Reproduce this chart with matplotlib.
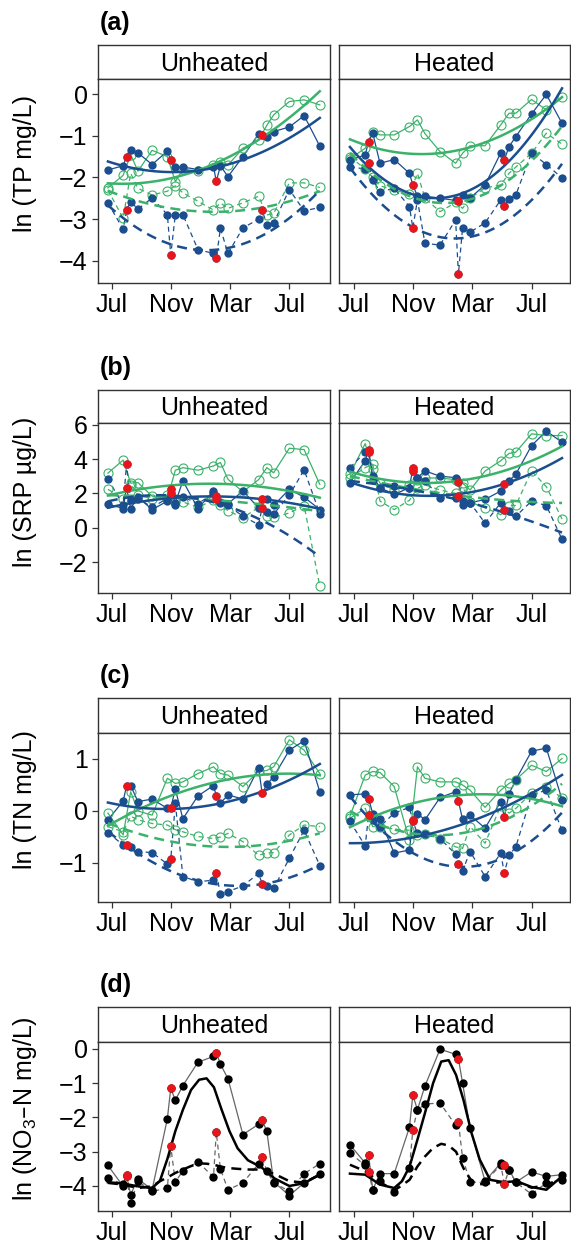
import numpy as np
import matplotlib.pyplot as plt

plt.rcParams['font.family'] = ['Liberation Sans', 'DejaVu Sans']
plt.rcParams['mathtext.default'] = 'regular'

# sampling dates, months after 1 July
months = [-0.27, 0.76, 0.99, 1.27, 1.76, 2.72, 3.75, 3.98, 4.29, 4.8, 5.82, 6.87,
          7.06, 7.34, 7.85, 8.86, 9.92, 10.16, 10.48, 10.94, 12.0, 13.0, 14.06]
red_idx = [2, 7, 12, 17]          # quarterly dates shown in red
tick_months = [0, 4, 8, 12]
tick_labels = ['Jul', 'Nov', 'Mar', 'Jul']
N = None

# fitted curve values read at these dates (a-c)
fit_months = [-0.27, 4, 8, 12, 14.06]
# fitted curve values read at these dates (d)
fit_months_d = [-0.27, 0.76, 1.76, 2.72, 3.25, 3.76, 4.29, 4.8, 5.35, 5.9, 6.4,
                6.9, 7.4, 7.95, 8.5, 9.2, 10.1, 11.0, 12.0, 13.0, 14.06]

# ---- (a) TP ----
tp_unh_blue = [-1.82, -1.72, -1.50, -1.34, -1.41, -1.69, -1.37, -1.58, -1.74, -1.75, -1.81, -1.74,
               -2.09, -1.72, -1.98, -1.50, -0.96, -0.98, -1.02, -0.90, -0.79, -0.52, -1.25]
tp_unh_blue_d = [-2.61, -3.24, -2.78, -2.58, -2.76, -2.49, -2.89, -3.86, -2.89, -2.89, -3.73, -3.82,
                 -3.93, -3.22, -3.82, -3.21, -3.00, -2.78, -3.14, -3.09, -2.29, -2.80, -2.72]
tp_unh_green = [-2.25, -1.95, N, -1.45, -1.85, -1.35, -1.50, N, -2.10, -1.80, -1.85, -1.70,
                N, -1.62, -1.70, -1.30, -1.10, N, -0.75, -0.50, -0.18, -0.14, -0.26]
tp_unh_green_d = [-2.30, -2.98, N, -1.90, -2.26, -2.42, -2.33, N, -2.20, -2.37, -2.57, -2.78,
                  N, -2.61, -2.74, -2.61, -2.45, N, -2.90, -2.86, -2.13, -2.13, -2.24]
tp_heat_blue = [-1.58, -1.46, -1.14, -0.94, -1.66, -1.57, -1.90, -2.18, -2.45, -2.45, -2.50, -2.55,
                -2.57, -2.42, -2.49, -2.18, -1.41, -1.58, -1.26, -1.02, -0.48, -0.01, -0.70]
tp_heat_blue_d = [-1.74, -1.80, -1.66, -2.06, -2.34, -2.26, -2.70, -3.21, -2.54, -3.58, -3.62, -3.02,
                  -4.32, -3.21, -3.31, -3.09, -2.54, -2.68, -2.52, -2.42, -1.41, -1.69, -2.01]
tp_heat_green = [-1.55, -1.30, N, -0.90, -0.98, -0.98, -0.78, N, -0.62, -0.95, -1.38, -1.66,
                 N, -1.42, -1.24, -1.24, -0.74, N, -0.46, -0.46, -0.13, -0.38, -0.08]
tp_heat_green_d = [-1.50, -1.80, N, -2.00, -2.20, -2.30, -2.40, N, -1.90, -2.50, -2.82, -2.60,
                   N, -2.74, -2.50, -2.25, -2.18, N, -1.90, -1.75, -1.42, -0.94, -1.20]
tp_unh_fits = {'green': [-2.13, -2.02, -1.55, -0.45, 0.0], 'blue': [-1.62, -1.85, -1.72, -1.0, -0.6],
               'green_d': [-2.34, -2.68, -2.85, -2.6, -2.3], 'blue_d': [-2.66, -3.6, -3.72, -2.9, -2.35]}
tp_heat_fits = {'green': [-1.1, -1.38, -1.34, -0.54, -0.1], 'blue': [-1.3, -2.3, -2.42, -0.88, 0.1],
                'green_d': [-1.42, -2.46, -2.54, -1.58, -0.78], 'blue_d': [-1.78, -3.15, -3.45, -2.55, -1.66]}

# ---- (b) SRP ----
srp_unh_blue = [1.39, 1.12, 2.33, 1.12, 1.78, 1.06, 1.55, 2.24, 1.45, 2.73, 1.12, 2.14,
                1.84, 1.45, 1.40, 2.14, 1.16, 1.69, 1.69, 1.30, 2.24, 1.78, 1.06]
srp_unh_blue_d = [2.86, 1.30, 3.70, 1.60, 1.70, 1.20, 1.70, 2.00, 1.30, 1.80, 1.40, 2.00,
                  1.70, 1.50, 1.30, 0.67, 0.18, 1.16, 0.90, 0.80, 1.90, 3.37, 0.82]
srp_unh_green = [3.18, 3.94, N, 2.60, 2.63, 1.84, 1.70, N, 3.35, 3.50, 3.35, 3.60,
                 N, 3.80, 2.82, 2.10, 2.80, N, 3.50, 3.20, 4.63, 4.55, 2.53]
srp_unh_green_d = [2.24, 1.70, N, 2.50, 1.90, 1.70, 1.90, N, 1.50, 1.50, 1.20, 1.60,
                   N, 1.30, 1.00, 0.57, 1.20, N, 0.70, 0.60, 0.86, 1.29, -3.41]
srp_heat_blue = [2.63, 3.90, 4.50, 3.00, 2.33, 1.94, 2.33, 3.50, 2.92, 3.31, 3.00, 2.92,
                 2.67, 1.55, 1.45, 1.65, 2.14, 2.53, 2.73, 3.12, 4.78, 5.63, 4.98]
srp_heat_blue_d = [3.50, 4.40, 4.39, 2.80, 2.33, 2.43, 2.33, 3.30, 2.92, 2.75, 1.74, 1.74,
                   1.84, 1.35, 1.45, 0.27, 1.45, 1.06, 0.96, 0.67, 1.55, 1.29, -0.67]
srp_heat_green = [3.12, 4.90, N, 3.40, 2.60, 2.20, 2.50, N, 2.80, 2.90, 2.90, 2.80,
                  N, 2.60, 2.20, 3.30, 3.90, N, 4.33, 4.40, 5.47, 5.37, 5.37]
srp_heat_green_d = [2.90, 3.50, N, 3.70, 1.55, 1.06, 1.60, N, 2.30, 2.50, 2.20, 2.00,
                    N, 2.40, 1.50, 1.16, 0.76, N, 1.29, 1.30, 3.31, 2.39, 0.51]
srp_unh_fits = {'green': [1.88, 2.47, 2.53, 2.14, 1.75], 'blue': [1.16, 1.75, 1.78, 1.45, 1.1],
                'green_d': [1.9, 1.75, 1.55, 1.2, 0.95], 'blue_d': [1.5, 1.95, 1.2, -0.6, -1.6]}
srp_heat_fits = {'green': [3.25, 2.67, 2.82, 3.9, 4.75], 'blue': [2.63, 1.98, 1.98, 3.22, 4.04],
                 'green_d': [3.0, 2.3, 1.75, 1.5, 1.45], 'blue_d': [2.7, 2.27, 1.35, 0.37, -0.27]}

# ---- (c) TN ----
tn_unh_blue = [-0.17, 0.19, 0.48, 0.49, 0.18, 0.23, 0.05, 0.06, 0.42, -0.15, 0.29, 0.49,
               0.29, 0.15, 0.31, 0.23, 0.83, 0.34, 0.51, 0.66, 1.17, 1.35, 0.37]
tn_unh_blue_d = [-0.42, -0.65, -0.65, -0.70, -0.78, -0.80, -1.02, -0.93, 0.15, -1.26, -1.36, -1.33,
                 -1.19, -1.60, -1.55, -1.44, -1.20, -1.40, -1.45, -1.49, -0.91, -0.37, -1.05]
tn_unh_green = [-0.04, -0.46, N, 0.37, 0.00, -0.08, 0.63, N, 0.53, 0.56, 0.72, 0.85,
                N, 0.72, 0.69, 0.47, 0.76, N, 0.78, 0.85, 1.37, 1.17, 0.72]
tn_unh_green_d = [-0.30, -0.40, N, -0.10, -0.17, -0.24, -0.27, N, -0.36, -0.40, -0.49, -0.53,
                  N, -0.50, -0.43, -0.59, -0.85, N, -0.81, -0.80, -0.46, -0.27, -0.30]
tn_heat_blue = [0.31, 0.33, 0.24, -0.05, -0.16, -0.81, -0.75, -0.17, -0.05, -0.17, 0.26, 0.37,
                0.19, -0.16, -0.08, -0.33, 0.18, -0.11, 0.33, 0.60, 1.15, 1.21, 0.22]
tn_heat_blue_d = [-0.20, -0.67, -0.08, -0.17, -0.30, -0.04, 0.07, -0.20, -0.43, -0.45, -0.53, -0.83,
                  -1.02, -1.15, -0.78, -1.26, -0.81, -1.19, -0.85, -0.69, 0.31, 0.40, -0.37]
tn_heat_green = [-0.10, 0.69, N, 0.76, 0.74, 0.47, -0.56, N, 0.85, 0.63, 0.56, 0.56,
                 N, 0.50, 0.40, 0.07, 0.40, N, 0.53, 0.60, 0.88, 0.76, 1.01]
tn_heat_green_d = [-0.14, 0.05, N, -0.30, -0.30, -0.35, -0.37, N, -0.46, -0.45, -0.53, -0.69,
                   N, -0.72, -0.30, -0.62, 0.10, N, -0.04, 0.05, 0.35, 0.47, 0.25]
tn_unh_fits = {'green': [-0.29, 0.31, 0.6, 0.72, 0.69], 'blue': [0.15, 0.07, 0.18, 0.56, 0.93],
               'green_d': [-0.24, -0.56, -0.72, -0.56, -0.43], 'blue_d': [-0.4, -1.13, -1.45, -1.3, -1.02]}
tn_heat_fits = {'green': [-0.3, 0.12, 0.33, 0.26, 0.07], 'blue': [-0.62, -0.51, -0.17, 0.31, 0.71],
                'green_d': [0.0, -0.42, -0.42, 0.15, 0.5], 'blue_d': [0.3, -0.85, -1.07, -0.5, -0.08]}

# ---- (d) NO3-N ----
no3_unh = [-3.40, -4.01, -3.69, -4.25, -3.79, -4.11, -2.04, -1.15, -1.50, -1.07, -0.39, -0.22,
           -0.11, -0.45, -0.87, -2.50, -2.20, -2.07, -2.41, -3.88, -4.28, -3.91, -3.64]
no3_unh_d = [-3.77, -3.95, -3.70, -4.50, -3.86, -4.16, -4.06, -2.84, -3.89, -3.55, -3.30, -3.74,
             -2.44, -3.50, -4.11, -3.91, -3.35, -3.16, -3.57, -3.90, -4.16, -3.64, -3.35]
no3_heat = [-2.80, -3.33, -3.11, -4.11, -3.64, -3.64, -2.29, -1.34, -1.78, -1.08, -0.01, -0.16,
            -0.29, -1.00, -2.31, -3.86, -3.33, -3.38, -3.52, -3.89, -3.59, -3.72, -3.67]
no3_heat_d = [-3.04, -3.40, -3.59, -4.11, -3.86, -4.18, -3.48, -2.36, -1.78, -1.61, -1.58, -2.23,
              -2.14, -3.18, -3.89, -3.89, -3.38, -3.93, -3.54, -3.89, -4.24, -3.91, -3.82]
no3_unh_fit = [-3.89, -3.93, -4.01, -4.06, -3.85, -3.2, -2.4, -1.78, -1.2, -0.9, -0.86,
               -1.12, -1.75, -2.4, -2.9, -3.25, -3.45, -3.78, -4.0, -3.92, -3.67]
no3_unh_fit_d = [-3.91, -3.96, -4.06, -4.01, -3.86, -3.75, -3.62, -3.52, -3.42, -3.34, -3.35,
                 -3.38, -3.44, -3.48, -3.5, -3.52, -3.52, -3.65, -3.86, -3.9, -3.67]
no3_heat_fit = [-3.64, -3.67, -3.96, -4.06, -3.86, -3.43, -2.65, -1.87, -1.0, -0.37, -0.33,
                -0.76, -1.49, -2.46, -3.23, -3.82, -3.89, -3.86, -4.03, -4.11, -3.72]
no3_heat_fit_d = [-3.38, -3.57, -3.89, -4.13, -3.98, -3.82, -3.43, -3.14, -2.89, -2.77, -2.82,
                  -3.0, -3.48, -3.86, -3.95, -3.92, -3.88, -3.88, -4.05, -3.98, -3.75]

GREEN = '#3BB26A'
BLUE = '#1B4E8E'
RED = '#E8161B'
FRAME = '#333333'
THIN_DASH = (0, (4, 3))
FIT_DASH = (0, (4, 2.5))

W, H = 571, 1243
fig = plt.figure(figsize=(W / 100, H / 100), dpi=100)


def px_axes(x0, y0, x1, y1):
    return fig.add_axes([x0 / W, 1 - y1 / H, (x1 - x0) / W, (y1 - y0) / H])


x = np.array(months)


def draw_data(ax, vals, color, dashed, filled, line_color=None):
    y = np.array(vals, dtype=float)
    ok = ~np.isnan(y)
    ax.plot(x[ok], y[ok], color=line_color or color, lw=0.9,
            ls=THIN_DASH if dashed else '-', zorder=2)
    if filled:
        ax.plot(x[ok], y[ok], 'o', ms=6, mfc=color, mec=color, mew=0, zorder=3)
        ax.plot(x[red_idx], y[red_idx], 'o', ms=6, mfc=RED, mec=RED, mew=0, zorder=5)
    else:
        ax.plot(x[ok], y[ok], 'o', ms=6.5, mfc='none', mec=color, mew=0.8, zorder=3)


def draw_fit(ax, vals, color, dashed):
    coef = np.polyfit(fit_months, vals, 2)
    xx = np.linspace(months[0], months[-1], 120)
    ax.plot(xx, np.polyval(coef, xx), color=color, lw=1.8,
            ls=FIT_DASH if dashed else '-', zorder=4)


rows = [
    dict(letter='(a)', ylabel='ln (TP mg/L)', yticks=[0, -1, -2, -3, -4], ylim=(-4.53, 0.36),
         y=(45, 79, 283),
         unh=(tp_unh_green, tp_unh_green_d, tp_unh_blue, tp_unh_blue_d, tp_unh_fits),
         heat=(tp_heat_green, tp_heat_green_d, tp_heat_blue, tp_heat_blue_d, tp_heat_fits)),
    dict(letter='(b)', ylabel='ln (SRP µg/L)', yticks=[6, 4, 2, 0, -2], ylim=(-3.8, 6.1),
         y=(390, 423, 593),
         unh=(srp_unh_green, srp_unh_green_d, srp_unh_blue, srp_unh_blue_d, srp_unh_fits),
         heat=(srp_heat_green, srp_heat_green_d, srp_heat_blue, srp_heat_blue_d, srp_heat_fits)),
    dict(letter='(c)', ylabel='ln (TN mg/L)', yticks=[1, 0, -1], ylim=(-1.75, 1.5),
         y=(698, 733, 902),
         unh=(tn_unh_green, tn_unh_green_d, tn_unh_blue, tn_unh_blue_d, tn_unh_fits),
         heat=(tn_heat_green, tn_heat_green_d, tn_heat_blue, tn_heat_blue_d, tn_heat_fits)),
    dict(letter='(d)', ylabel='ln (NO$_3$–N mg/L)', yticks=[0, -1, -2, -3, -4], ylim=(-4.73, 0.2),
         y=(1007, 1042, 1211),
         unh=(no3_unh, no3_unh_d, no3_unh_fit, no3_unh_fit_d),
         heat=(no3_heat, no3_heat_d, no3_heat_fit, no3_heat_fit_d)),
]

cols = [('Unheated', 98, 330, (-0.94, 14.75), 'unh'),
        ('Heated', 339, 570, (-1.01, 14.6), 'heat')]

for r, row in enumerate(rows):
    s_top, a_top, a_bot = row['y']
    for c, (title, x0, x1, xlim, key) in enumerate(cols):
        # facet strip
        st = px_axes(x0, s_top, x1, a_top)
        st.set_xticks([])
        st.set_yticks([])
        for sp in st.spines.values():
            sp.set_color(FRAME)
            sp.set_linewidth(1.0)
        st.text(0.5, 0.45, title, ha='center', va='center', fontsize=18, transform=st.transAxes)

        ax = px_axes(x0, a_top, x1, a_bot)
        ax.set_xlim(*xlim)
        ax.set_ylim(*row['ylim'])
        for sp in ax.spines.values():
            sp.set_color(FRAME)
            sp.set_linewidth(1.0)
        ax.set_xticks(tick_months)
        ax.set_xticklabels(tick_labels)
        ax.set_yticks(row['yticks'])
        ax.tick_params(direction='out', length=4.5, width=0.9, color=FRAME,
                       labelsize=18, pad=3)
        if c == 1:
            ax.tick_params(axis='y', left=False, labelleft=False)

        d = row[key]
        if r < 3:
            g, gd, b, bd, fits = d
            draw_data(ax, g, GREEN, False, False)
            draw_data(ax, gd, GREEN, True, False)
            draw_data(ax, b, BLUE, False, True)
            draw_data(ax, bd, BLUE, True, True)
            draw_fit(ax, fits['green'], GREEN, False)
            draw_fit(ax, fits['green_d'], GREEN, True)
            draw_fit(ax, fits['blue'], BLUE, False)
            draw_fit(ax, fits['blue_d'], BLUE, True)
        else:
            s, sd, fs, fsd = d
            draw_data(ax, s, 'black', False, True, line_color='#666666')
            draw_data(ax, sd, 'black', True, True, line_color='#666666')
            ax.plot(fit_months_d, fs, color='black', lw=1.8, zorder=4)
            ax.plot(fit_months_d, fsd, color='black', lw=1.8, ls=FIT_DASH, zorder=4)

    fig.text(25 / W, 1 - (s_top + a_bot) / 2 / H, row['ylabel'], rotation=90,
             ha='center', va='center', fontsize=18)
    fig.text(100 / W, 1 - (s_top - 22) / H, row['letter'], fontsize=18,
             fontweight='bold', ha='left', va='center')

fig.savefig('out.png', dpi=100)
